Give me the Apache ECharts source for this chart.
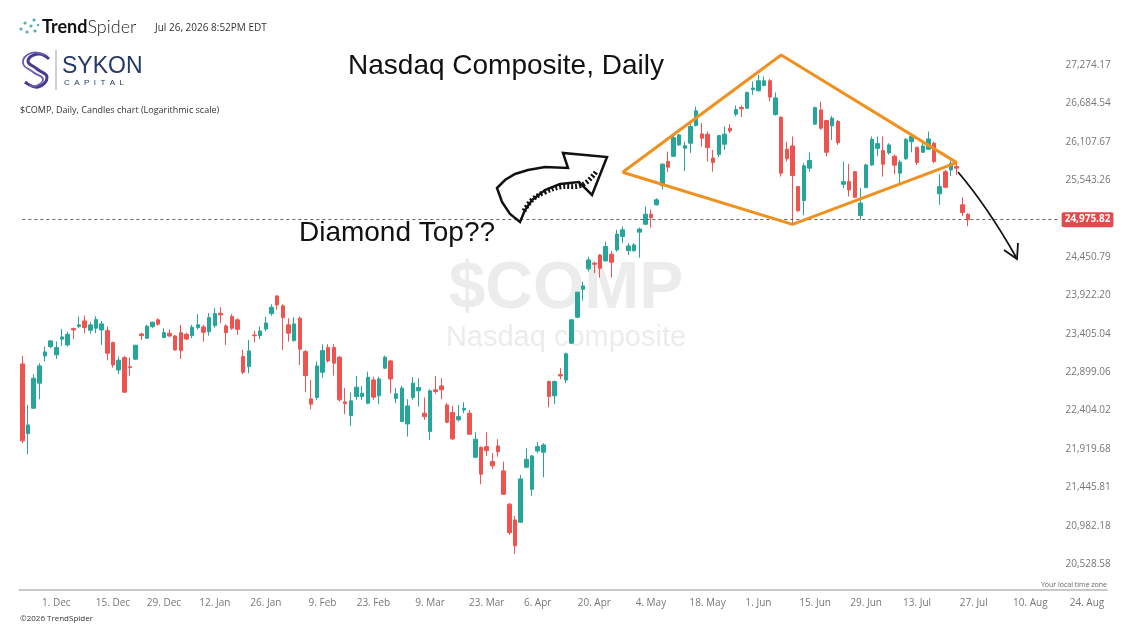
<!DOCTYPE html>
<html><head><meta charset="utf-8">
<script src="https://cdn.jsdelivr.net/npm/echarts@6/dist/echarts.min.js"></script>
<style>html,body{margin:0;padding:0;background:#fff}#c{width:1132px;height:642px}</style>
</head><body><div id="c"></div>
<script>
// ---- calendar (categories) ----
const startDate = '2025-11-20';
const holidays = ['2025-11-27','2025-12-25','2026-01-01','2026-01-19','2026-02-16','2026-04-03','2026-05-25','2026-06-19','2026-07-03'];
const slotCount = 192;
const xTickDates = ['2025-12-01','2025-12-15','2025-12-29','2026-01-12','2026-01-26','2026-02-09','2026-02-23','2026-03-09','2026-03-23','2026-04-06','2026-04-20','2026-05-04','2026-05-18','2026-06-01','2026-06-15','2026-06-29','2026-07-13','2026-07-27','2026-08-10','2026-08-24'];
const yTickLabels = [20528.58,20982.18,21445.81,21919.68,22404.02,22899.06,23405.04,23922.20,24450.79,24991.05,25543.26,26107.67,26684.54,27274.17];
const axisBottomPrice = 20229, axisTopPrice = 28141;
const lastPrice = 24975.82;

// ---- daily candles, Nov 20 2025 -> Jul 24 2026 ----
const openP = [23007,22113,22434,22756,23112,23235,23126,23333,23257,23474,23501,23577,23452,23479,23456,23447,23288,22928,23090,22970,23069,23402,23346,23501,23591,23354,23412,23376,23420,23398,23380,23487,23497,23433,23514,23681,23510,23635,23591,23103,22972,23389,23380,23469,23676,23914,23780,23524,23314,23613,23169,22554,22571,22898,23222,23222,23095,22515,22340,22584,22584,22498,22798,22593,22951,23046,22558,22264,22234,22571,22657,22370,22139,22670,22721,22476,22378,22286,22412,22370,21817,21941,21949,21763,21957,21648,21242,21052,21024,21693,21422,21895,21879,22777,22593,22867,22798,23280,23627,24006,24286,24364,24479,24396,24489,24549,24737,24539,24539,24799,24911,25053,25188,25464,25816,25893,26061,26012,26086,26351,26225,26221,25867,25918,26071,26310,26521,26622,26612,26892,26877,26958,27030,26516,26475,25997,26046,25450,25249,25718,26371,26585,26425,26345,26410,25484,25522,25667,25034,25435,25766,26010,25977,25943,25893,25645,25856,26109,26026,25952,25997,26086,25345,25667,25692,25743,25188,25053];
const closeP = [22021,22222,22820,22981,23165,23310,23222,23363,23398,23456,23524,23487,23524,23595,23537,23148,22994,23056,22640,22960,23253,23380,23506,23560,23533,23420,23376,23191,23182,23336,23492,23524,23425,23622,23676,23658,23420,23479,23465,22898,23178,23380,23442,23550,23761,23793,23622,23412,23537,23200,22854,22486,22981,23182,23046,23016,22541,22493,22528,22704,22627,22833,22576,22811,23095,22811,22618,22692,22463,22756,22700,22327,22657,22648,22670,22256,22046,22327,22433,22104,22042,21607,21899,21710,21886,21362,20900,20744,21549,21792,21833,21949,21970,22584,22777,22850,23139,23591,23965,24051,24410,24350,24295,24596,24378,24771,24832,24605,24619,24842,25053,25004,25259,25777,25733,26169,26210,26050,26336,26572,26160,26021,25802,26200,26221,26270,26592,26602,26850,26918,27030,27030,26780,26768,25645,25856,25610,25101,25753,25831,26620,26310,25952,26461,26095,25522,25402,25297,25212,25766,26145,26080,25777,26061,25762,25806,26145,26186,25802,26046,26149,25816,25450,25441,25791,25718,25078,24975.82];
const lowP = [21992,21854,22425,22550,23037,23214,23073,23244,23235,23333,23479,23412,23406,23412,23257,23056,22958,22872,22631,22854,23060,23323,23336,23479,23514,23346,23359,23182,23073,23323,23346,23465,23301,23380,23487,23546,23257,23456,23389,22872,22885,23293,23333,23442,23645,23726,23191,23301,23301,22994,22640,22421,22541,22828,23024,22854,22519,22357,22210,22541,22541,22486,22541,22486,22941,22627,22498,22256,22075,22541,22454,22286,22033,22618,22550,22243,22033,22264,22370,22096,21805,21484,21833,21669,21824,21354,20873,20649,21019,21681,21342,21867,21570,22446,22486,22807,22756,23271,23613,23851,24249,24227,24166,24386,24166,24525,24644,24479,24525,24441,24901,24863,25178,25412,25659,25879,26050,25678,25943,26336,26035,25816,25667,25879,25987,26235,26490,26480,26597,26815,26866,26943,26713,26500,25595,25816,24911,25091,25039,25667,26360,26285,25893,26134,26061,25427,25306,25283,24971,25427,25753,25893,25595,25918,25630,25488,25840,25952,25766,25943,25987,25791,25188,25427,25605,25620,25029,24882];
const highP = [23112,22476,22872,23016,23235,23323,23301,23470,23433,23487,23635,23649,23560,23640,23577,23501,23301,23103,23112,23090,23257,23420,23524,23568,23613,23479,23465,23389,23524,23420,23524,23668,23524,23681,23748,23761,23533,23668,23613,23191,23323,23447,23501,23635,23802,23928,23802,23613,23627,23635,23191,22798,23037,23266,23266,23266,23112,22692,22635,22850,22721,22905,22841,22841,23116,23060,22692,22721,22550,22833,22820,22571,22678,22850,22820,22498,22463,22476,22511,22412,22130,21949,22130,21867,22042,21763,21254,21100,21599,21928,21845,22005,21991,22790,22790,22950,23156,23600,23973,24110,24455,24386,24489,24667,24535,24832,24878,24644,24644,24864,25162,25122,25283,25791,25962,26221,26225,26109,26386,26637,26386,26260,25987,26210,26336,26370,26653,26653,26866,27019,27122,27096,27056,26850,26490,26109,26186,25460,25791,25948,26635,26711,26435,26495,26435,25816,25782,25678,25427,25782,26186,26186,26186,26086,25918,25840,26160,26225,26035,26086,26260,26109,25630,25692,25831,25782,25297,25067];

// ---- diamond annotation vertices [date, price] ----
const diamondPts = [['2026-04-27',25659],['2026-06-05',27430],['2026-07-22',25800],['2026-06-09',24908],['2026-04-27',25659]];

// ---- build ----
function tradingDays(start, n, skip){
  const out=[]; const d=new Date(start+'T00:00:00Z');
  while(out.length<n){
    const wd=d.getUTCDay(); const s=d.toISOString().slice(0,10);
    if(wd!==0&&wd!==6&&skip.indexOf(s)<0) out.push(s);
    d.setUTCDate(d.getUTCDate()+1);
  }
  return out;
}
const dates = tradingDays(startDate, slotCount, holidays);
const L = Math.log;
const MON = ['Jan','Feb','Mar','Apr','May','Jun','Jul','Aug','Sep','Oct','Nov','Dec'];
const fmtDate = s => { const p=s.split('-'); return (+p[2])+'. '+MON[+p[1]-1]; };
const fmtNum = v => v.toLocaleString('en-US',{minimumFractionDigits:2,maximumFractionDigits:2});
const tickSet = new Set(xTickDates);
const candleData = openP.map((o,i)=>[L(o),L(closeP[i]),L(lowP[i]),L(highP[i])]);
const diamondData = diamondPts.map(p=>[p[0], L(p[1])]);

const chart = echarts.init(document.getElementById('c'), null, {renderer:'canvas'});
const FONT = 'Open Sans';
chart.setOption({
  animation:false,
  backgroundColor:'#fff',
  grid:{left:19.5, right:25.2, top:10, bottom:52, outerBoundsMode:'none', containLabel:false},
  xAxis:{
    type:'category', data:dates, boundaryGap:true,
    axisLine:{lineStyle:{color:'#c8c8c8', width:2}},
    axisTick:{alignWithLabel:true, interval:(i,v)=>tickSet.has(v), length:5, lineStyle:{color:'#999'}},
    axisLabel:{interval:(i,v)=>tickSet.has(v), formatter:fmtDate, color:'#777', fontSize:10, margin:8, fontFamily:FONT},
    splitLine:{show:false}
  },
  yAxis:{
    type:'value', position:'right', min:L(axisBottomPrice), max:L(axisTopPrice),
    splitLine:{show:false}, axisLine:{show:false}, axisTick:{show:false},
    axisLabel:{inside:true, margin:-4, customValues:yTickLabels.map(L), formatter:v=>fmtNum(Math.exp(v)), color:'#777', fontSize:10, fontFamily:FONT}
  },
  graphic:[
    {type:'text', x:566, y:290, z:-10, style:{text:'$COMP', font:'bold 66px "Liberation Sans"', fill:'#ececec', align:'center', verticalAlign:'middle'}},
    {type:'text', x:566, y:338, z:-10, style:{text:'Nasdaq composite', font:'29px "Liberation Sans"', fill:'#ececec', align:'center', verticalAlign:'middle'}},
    // header
    {type:'circle', shape:{cx:21,cy:29,r:1.6}, style:{fill:'#5aa9c8'}},
    {type:'circle', shape:{cx:25,cy:23,r:1.6}, style:{fill:'#4fb39a'}},
    {type:'circle', shape:{cx:27,cy:32,r:1.6}, style:{fill:'#5aa9c8'}},
    {type:'circle', shape:{cx:31,cy:26,r:1.6}, style:{fill:'#4fb39a'}},
    {type:'circle', shape:{cx:34,cy:20,r:1.6}, style:{fill:'#5aa9c8'}},
    {type:'circle', shape:{cx:35,cy:31,r:1.6}, style:{fill:'#4fb39a'}},
    {type:'circle', shape:{cx:38,cy:25,r:1.3}, style:{fill:'#5aa9c8'}},
    {type:'text', x:42, y:27, style:{text:'{b|Trend}{l|Spider}', verticalAlign:'middle', rich:{b:{font:'bold 18px Lato', fill:'#111'}, l:{font:'300 18px Lato', fill:'#222'}}}},
    {type:'text', x:155, y:28, style:{text:'Jul 26, 2026 8:52PM EDT', font:'10px "Open Sans"', fill:'#333', verticalAlign:'middle'}},
    {type:'polyline', shape:{points:[[49,59],[38,54],[28,61],[37,69],[47,77],[38,87],[25,82]], smooth:0.5}, style:{stroke:'#4b3b8f', lineWidth:3, fill:null}},
    {type:'polyline', shape:{points:[[45,55],[31,53],[23,63],[33,72],[43,79],[36,86],[29,85]], smooth:0.5}, style:{stroke:'#6c5bb3', lineWidth:1.8, fill:null}},
    {type:'line', shape:{x1:56,y1:50,x2:56,y2:90}, style:{stroke:'#a0a0a0', lineWidth:1}},
    {type:'text', x:62, y:67, style:{text:'SYKON', font:'23px "Liberation Sans"', fill:'#233a66', verticalAlign:'middle'}},
    {type:'text', x:64, y:83, style:{text:'C  A  P  I  T  A  L', font:'8px "Liberation Sans"', fill:'#233a66', verticalAlign:'middle'}},
    {type:'text', x:20, y:110, style:{text:'$COMP, Daily, Candles chart (Logarithmic scale)', font:'9px "Open Sans"', fill:'#333', verticalAlign:'middle'}},
    {type:'text', x:20, y:619, style:{text:'\u00a92026 TrendSpider', font:'8px "Open Sans"', fill:'#333', verticalAlign:'middle'}},
    {type:'text', x:1107, y:585, style:{text:'Your local time zone', font:'7px "Open Sans"', fill:'#666', align:'right', verticalAlign:'middle'}},
    // annotations
    {type:'text', x:506, y:66, style:{text:'Nasdaq Composite, Daily', font:'28px "Liberation Sans"', fill:'#111', align:'center', verticalAlign:'middle'}},
    {type:'text', x:397, y:233, style:{text:'Diamond Top??', font:'28px "Liberation Sans"', fill:'#111', align:'center', verticalAlign:'middle'}},
    {type:'polygon', z:20, shape:{points:[[497,188],[505,180],[515,174],[528,170],[545,167],[568,168],[563,153],[607,157],[592,195],[579,182],[560,184],[545,190],[532,200],[525,210],[520,222],[510,214],[502,202]]}, style:{fill:'#fff', stroke:'#111', lineWidth:2.5}},
    {type:'polyline', z:21, shape:{points:[[524,211],[532,200],[545,192],[560,187],[582,185],[596,172]], smooth:0.4}, style:{stroke:'#111', lineWidth:5, lineDash:[2,2], fill:null}},
    {type:'bezierCurve', z:20, shape:{x1:958,y1:172,cpx1:975,cpy1:192,cpx2:995,cpy2:220,x2:1016,y2:257}, style:{stroke:'#111', lineWidth:1.8, fill:null}},
    {type:'polyline', z:20, shape:{points:[[1004,250],[1017,259],[1018,243]]}, style:{stroke:'#111', lineWidth:1.8, fill:null}}
  ],
  series:[
    {
      type:'candlestick', data:candleData, barWidth:4,
      itemStyle:{color:'#26a69a', color0:'#ef5350', borderColor:'#26a69a', borderColor0:'#ef5350', borderWidth:1},
      markLine:{
        symbol:'none', silent:true, animation:false,
        lineStyle:{color:'#666', type:[3,3], width:1},
        label:{show:true, position:'end', formatter:fmtNum(lastPrice), backgroundColor:'#e5484d', color:'#fff', fontWeight:'bold', fontSize:10, fontFamily:FONT, padding:[3,3,2,3], borderRadius:2, distance:3},
        data:[[{coord:[0, L(lastPrice)]},{coord:[183, L(lastPrice)]}]]
      }
    },
    {
      type:'line', data:diamondData, symbol:'none', z:6, silent:true,
      lineStyle:{color:'#f0901e', width:3}
    }
  ]
});
</script></body></html>
